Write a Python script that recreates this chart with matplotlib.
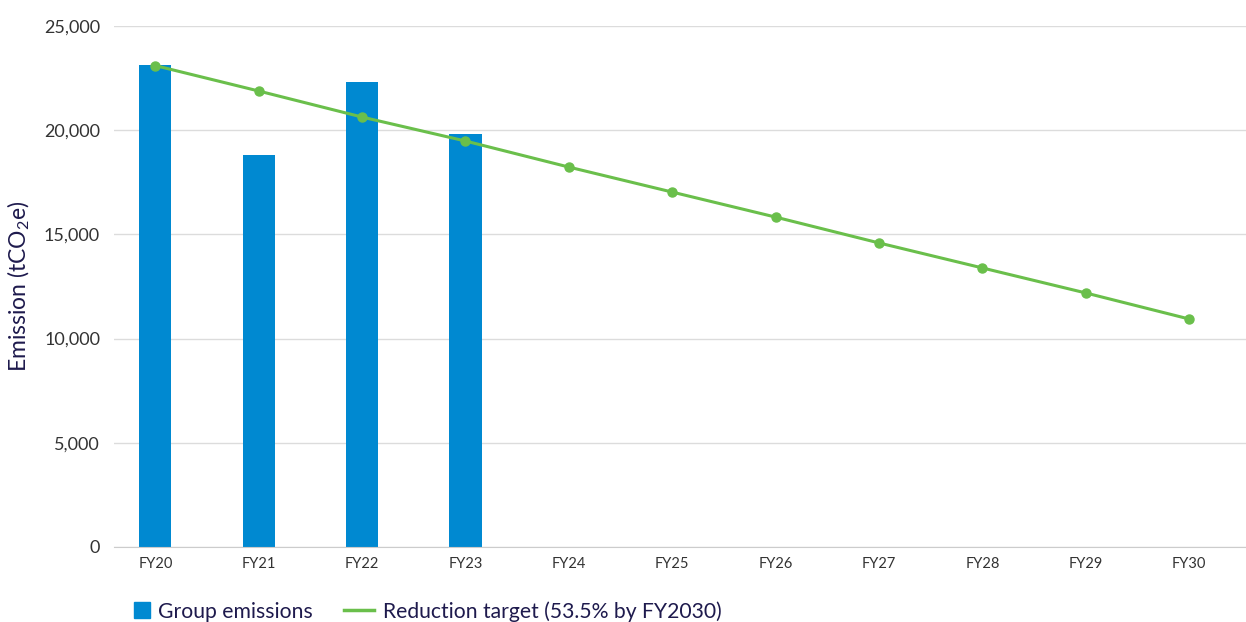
import matplotlib.pyplot as plt
from matplotlib.lines import Line2D
from matplotlib.patches import Rectangle
from matplotlib.legend_handler import HandlerPatch
import numpy

years = ['FY20', 'FY21', 'FY22', 'FY23', 'FY24', 'FY25', 'FY26', 'FY27', 'FY28', 'FY29', 'FY30']
group_emissions = [23130, 18800, 22300, 19800]  # tCO2e, FY20-FY23
reduction_target = [23100, 21880, 20630, 19480, 18230, 17030, 15830, 14590, 13390, 12190, 10940]
y_ticks = [0, 5000, 10000, 15000, 20000, 25000]

bar_colour = '#0089d1'
line_colour = '#6abf4b'
navy = '#1e1a4d'

plt.rcParams['font.family'] = ['Lato', 'DejaVu Sans']
plt.rcParams['mathtext.fontset'] = 'custom'
plt.rcParams['mathtext.rm'] = 'Lato'

fig = plt.figure(figsize=(12.46, 6.22), dpi=100)
axes = fig.add_axes([0.0915, 0.1206, 0.9085, 0.8376])

x = numpy.arange(len(years))
axes.bar(x[:len(group_emissions)], group_emissions, width=0.31, color=bar_colour, zorder=2)
axes.plot(x, reduction_target, color=line_colour, linewidth=2.2, marker='o',
          markersize=6.5, zorder=3)

axes.set_xlim(-0.4, 10.55)
axes.set_ylim(0, 25000)
axes.set_xticks(x)
axes.set_xticklabels(years)
axes.set_yticks(y_ticks)
axes.set_yticklabels(['{:,}'.format(v) for v in y_ticks])
axes.tick_params(axis='y', length=0, pad=10, labelsize=13, labelcolor='#333333')
axes.tick_params(axis='x', length=0, pad=7, labelsize=10.5, labelcolor='#333333')
axes.grid(axis='y', color='#dcdcdc', linewidth=1, zorder=0)
axes.set_axisbelow(True)
for side in ['top', 'right', 'left']:
    axes.spines[side].set_visible(False)
axes.spines['bottom'].set_color('#cccccc')

fig.text(0.015, 0.54, 'Emission (tCO$_2$e)', rotation=90, va='center', ha='center',
         fontsize=16.5, color=navy)


# square legend key sitting at the right end of the handle box
def square_key(legend, orig_handle, xdescent, ydescent, width, height, fontsize):
    side = height * 1.05
    return Rectangle((width - side - xdescent, -ydescent + (height - side) / 2), side, side)


bar_key = Rectangle((0, 0), 1, 1, color=bar_colour)
line_key = Line2D([], [], color=line_colour, linewidth=2.5)
fig.legend(handles=[bar_key, line_key],
           labels=['Group emissions', 'Reduction target (53.5% by FY2030)'],
           handler_map={Rectangle: HandlerPatch(patch_func=square_key)},
           loc='center left', bbox_to_anchor=(0.089, 0.017),
           ncol=2, frameon=False, fontsize=15.2, labelcolor=navy, handlelength=1.45,
           handleheight=0.74, columnspacing=1.45, handletextpad=0.4, borderaxespad=0)

fig.savefig('out.png', dpi=100)
